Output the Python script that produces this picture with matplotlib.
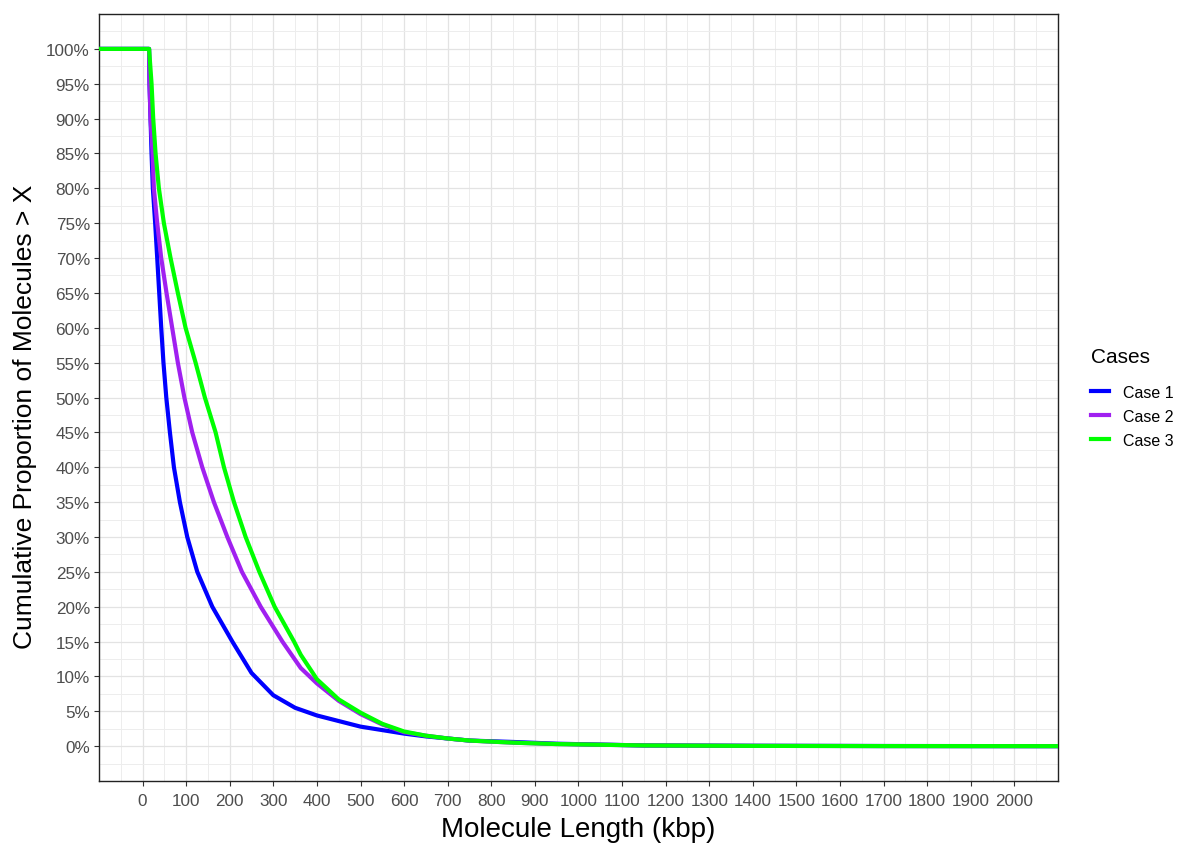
import numpy as np
import matplotlib
matplotlib.use("Agg")
import matplotlib.pyplot as plt
from matplotlib.ticker import MultipleLocator, FuncFormatter

plt.rcParams["font.family"] = ["Liberation Sans", "DejaVu Sans"]

# ── Survival curves: proportion of molecules longer than X (kbp, %) ───
case1_x = [-100, 15, 16, 18.4, 20.7, 23.7, 29, 33.7, 38.3, 42.9, 48, 54.5, 62.8, 72,
           85.7, 102.6, 125.6, 160, 206, 250, 300, 350, 400, 450, 500, 550, 600,
           650, 700, 750, 850, 950, 1150, 1400, 1700, 2100]
case1_y = [100, 100, 95, 90, 85, 80, 75, 70, 65, 60, 55, 50, 45, 40,
           35, 30, 25, 20, 15, 10.5, 7.3, 5.5, 4.4, 3.6, 2.8, 2.3, 1.8,
           1.4, 1.1, 0.8, 0.6, 0.35, 0.1, 0.05, 0.02, 0.0]

case2_x = [-100, 15, 16, 18.4, 23, 26, 33.7, 42.9, 55, 68, 81, 96, 114, 137,
           163.7, 194.5, 228, 271, 320.8, 363, 400, 450, 500, 550, 600,
           650, 700, 750, 850, 950, 1150, 1400, 1700, 2100]
case2_y = [100, 100, 95, 90, 85, 80, 75, 70, 65, 60, 55, 50, 45, 40,
           35, 30, 25, 20, 15, 11.2, 9.0, 6.5, 4.6, 3.1, 2.0,
           1.5, 1.1, 0.8, 0.5, 0.3, 0.1, 0.04, 0.01, 0.0]

case3_x = [-100, 15, 20.7, 24.5, 29.9, 37.5, 49, 64.3, 81, 98.7, 121.7, 143, 167.6,
           186.8, 209.8, 236.5, 268, 303, 347.5, 363, 400, 450, 500, 550, 600,
           650, 700, 750, 850, 950, 1150, 1400, 1700, 2100]
case3_y = [100, 100, 95, 90, 85, 80, 75, 70, 65, 60, 55, 50, 45,
           40, 35, 30, 25, 20, 15, 13.1, 9.6, 6.7, 4.8, 3.2, 2.1,
           1.5, 1.1, 0.8, 0.5, 0.3, 0.1, 0.04, 0.01, 0.0]

labels = ["Case 1", "Case 2", "Case 3"]
colors = ["#0000FF", "#A020F0", "#00FF00"]

fig = plt.figure(figsize=(11.92, 8.54), dpi=100)
ax = fig.add_axes([0.083, 0.0843, 0.8046, 0.8981])

for xs, ys, lab, col in zip([case1_x, case2_x, case3_x], [case1_y, case2_y, case3_y], labels, colors):
    ax.plot(xs, ys, color=col, linewidth=3.0, label=lab, solid_joinstyle="round", zorder=3)

ax.set_xlim(-100, 2100)
ax.set_ylim(-5, 105)

ax.set_xticks(np.arange(0, 2001, 100))
ax.xaxis.set_minor_locator(MultipleLocator(50))
ax.set_yticks(np.arange(0, 101, 5))
ax.yaxis.set_minor_locator(MultipleLocator(2.5))
ax.yaxis.set_major_formatter(FuncFormatter(lambda v, p: f"{v:.0f}%"))

ax.grid(which="major", color="#E3E3E3", linewidth=0.9, zorder=0)
ax.grid(which="minor", color="#EDEDED", linewidth=0.7, zorder=0)
ax.set_axisbelow(True)

ax.tick_params(which="major", length=3.5, width=0.8, color="#333333",
               labelcolor="#4D4D4D", labelsize=12.3)
ax.tick_params(axis="x", pad=5)
ax.tick_params(axis="y", pad=3)
ax.tick_params(which="minor", length=0)
for s in ax.spines.values():
    s.set_color("#222222")
    s.set_linewidth(1.0)

ax.set_xlabel("Molecule Length (kbp)", fontsize=20, labelpad=6)
ax.set_ylabel("Cumulative Proportion of Molecules > X", fontsize=19)
ax.yaxis.set_label_coords(-0.0647, 0.476)

leg = ax.legend(title="Cases", loc="center left", bbox_to_anchor=(1.0194, 0.5),
                frameon=False, fontsize=11.5, title_fontsize=15,
                handlelength=1.13, handletextpad=0.9, labelspacing=0.56)
leg._legend_box.align = "left"
leg._legend_box.sep = 13.5

fig.savefig("out.png", dpi=100)
